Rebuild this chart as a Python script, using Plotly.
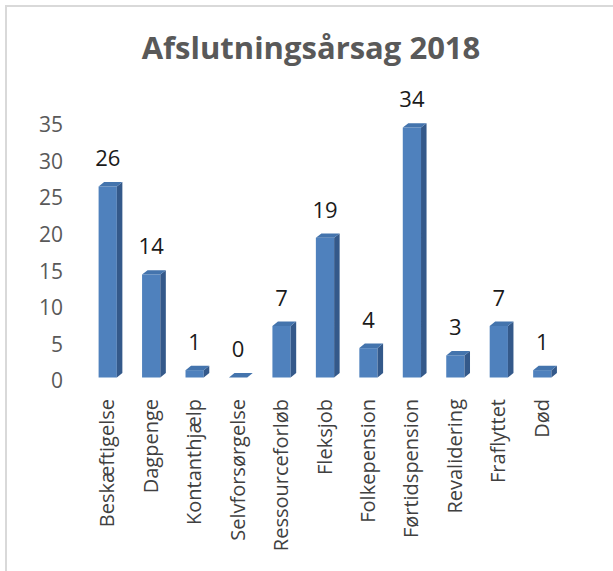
import plotly.graph_objects as go

categories = ["Beskæftigelse", "Dagpenge", "Kontanthjælp", "Selvforsørgelse",
              "Ressourceforløb", "Fleksjob", "Folkepension", "Førtidspension",
              "Revalidering", "Fraflyttet", "Død"]
values = [26, 14, 1, 0, 7, 19, 4, 34, 3, 7, 1]
y_ticks = [0, 5, 10, 15, 20, 25, 30, 35]

idx = list(range(len(categories)))

# 3D look parameters (style)
BAR_W = 0.42
DX = 0.127
DY = 0.61
FRONT = "#4f81bd"
SIDE = "#34598a"
TOP = "#4474ad"

side_x, side_y, top_x, top_y = [], [], [], []
for i, v in zip(idx, values):
    xl, xr = i - BAR_W / 2, i + BAR_W / 2
    side_x += [xr, xr + DX, xr + DX, xr, xr, None]
    side_y += [0, DY, v + DY, v, 0, None]
    top_x += [xl, xl + DX, xr + DX, xr, xl, None]
    top_y += [v, v + DY, v + DY, v, v, None]

fig = go.Figure()
fig.add_trace(go.Bar(x=idx, y=values, width=BAR_W, base=0,
                     marker=dict(color=FRONT, line=dict(width=0)),
                     showlegend=False, hoverinfo="x+y"))
fig.add_trace(go.Scatter(x=side_x, y=side_y, fill="toself", mode="lines",
                         line=dict(width=0, color=SIDE), fillcolor=SIDE,
                         showlegend=False, hoverinfo="skip"))
fig.add_trace(go.Scatter(x=top_x, y=top_y, fill="toself", mode="lines",
                         line=dict(width=0, color=TOP), fillcolor=TOP,
                         showlegend=False, hoverinfo="skip"))
fig.add_trace(go.Scatter(x=idx, y=[v + 3.5 for v in values], mode="text",
                         text=[str(v) for v in values],
                         textposition="middle center",
                         textfont=dict(family="Open Sans", size=22, color="#1a1a1a"),
                         showlegend=False, hoverinfo="skip"))
# invisible trace to carry the tick-label axis
fig.add_trace(go.Scatter(x=[0], y=[0], yaxis="y2", mode="markers",
                         marker=dict(opacity=0), showlegend=False, hoverinfo="skip"))

fig.update_layout(
    width=613, height=571, autosize=False,
    paper_bgcolor="white", plot_bgcolor="rgba(0,0,0,0)",
    margin=dict(l=86, r=49, t=70, b=186),
    title=dict(text="Afslutningsårsag 2018", x=311 / 613, xanchor="center",
               y=1 - 48 / 571, yanchor="middle",
               font=dict(family="Open Sans", size=31, color="#595959", weight="bold")),
    xaxis=dict(range=[-0.5, 10.5], tickmode="array", tickvals=idx, ticktext=categories,
               tickangle=-90, showgrid=False, showline=False, zeroline=False,
               ticks="", ticklabelstandoff=9, automargin=False,
               tickfont=dict(family="Open Sans", size=20, color="#404040")),
    yaxis=dict(range=[-1.02, 41.84], showticklabels=False, showgrid=False,
               showline=False, zeroline=False, ticks="", automargin=False),
    yaxis2=dict(overlaying="y", side="left", range=[-0.547, 42.52],
                tickmode="array", tickvals=y_ticks, showgrid=False, showline=False,
                zeroline=False, ticks="", ticklabelstandoff=22, automargin=False,
                tickfont=dict(family="Open Sans", size=21, color="#595959")),
    shapes=[dict(type="rect", xref="paper", yref="paper",
                 x0=(6 - 86) / 478, x1=(640 - 86) / 478,
                 y0=(385 - 600) / 315, y1=(385 - 6) / 315,
                 line=dict(color="#d9d9d9", width=2), fillcolor="rgba(0,0,0,0)",
                 layer="below")],
)

fig.write_html("out.html", config={"displayModeBar": False},
               post_script="document.body.style.margin='0';document.body.style.overflow='hidden';")
